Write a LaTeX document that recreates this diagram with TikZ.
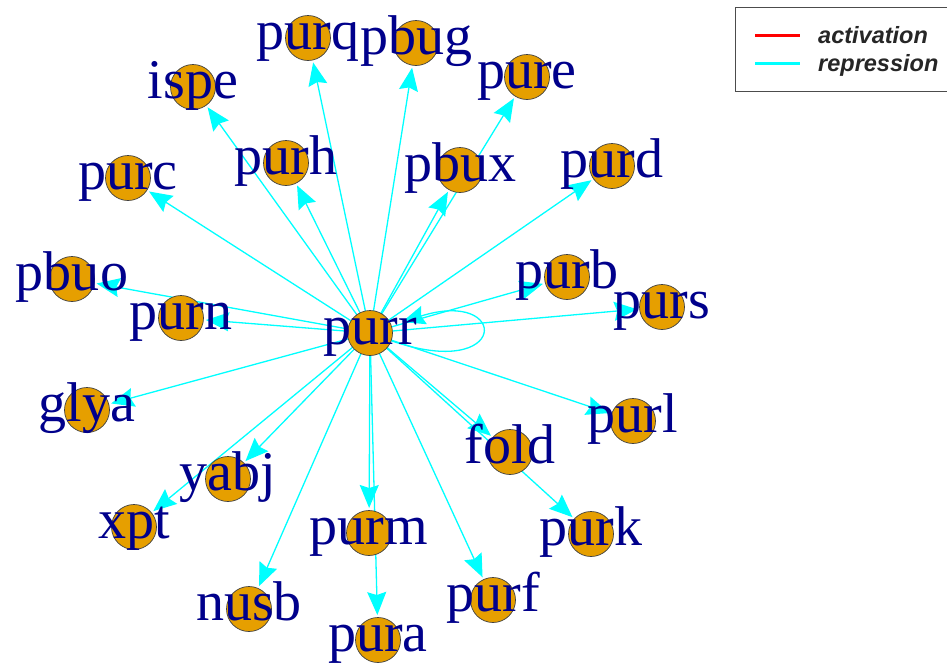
\documentclass[tikz,border=0pt]{standalone}
\usepackage{fontspec}
\setmainfont{Liberation Serif}
\newfontfamily\legfont{Liberation Sans}
\usetikzlibrary{arrows.meta,calc}
\definecolor{vfill}{HTML}{E69F00}
\definecolor{vtext}{RGB}{0,0,139}
\definecolor{ecyan}{HTML}{00FFFF}
\pgfdeclarelayer{edgelayer}
\pgfsetlayers{edgelayer,main}
\tikzset{
  vert/.style={circle, fill=vfill, draw=black!75, line width=0.7pt, minimum size=45pt, inner sep=0pt, outer sep=0pt},
  vlabel/.style={text=vtext, font=\fontsize{56}{60}\selectfont, inner sep=0pt, anchor=base},
  edge/.style={draw=ecyan, line width=1.3pt, -{Stealth[length=23pt,width=19pt,inset=3pt]}, shorten >=2.5pt},
  legtext/.style={font=\legfont\bfseries\itshape\fontsize{23.5}{26}\selectfont, text=black!85, anchor=base west, inner sep=0pt},
  legline/.style={line width=3pt},
}
\begin{document}
\begin{tikzpicture}[x=1pt,y=-1pt]
\useasboundingbox (0,0) rectangle (947,665);
% vertices and labels
\foreach \n/\x/\y in {purr/370/333, purq/308/38, pbug/416/43, ispe/193/87, purh/286/163,
  purc/128/178, pbux/460/170, pure/527/77, purd/612/166, purb/567/277, purs/662/307,
  pbuo/72/279, purn/181/318, glya/87/410, yabj/228/479, xpt/134/527, nusb/249/609,
  purm/369/533, pura/378/640, purl/633/421, fold/510/452, purk/591/534, purf/493/600}{
  \node[vert] (\n) at (\x,\y) {};
}
\foreach \n in {purr, purq, pbug, ispe, purh, purc, pbux, pure, purd, purb, purs,
  pbuo, purn, glya, yabj, xpt, nusb, purm, pura, purl, fold, purk, purf}{
  \node[vlabel] (l-\n) at ([yshift=-11pt]\n.center) {\n};
}
% edges
\begin{pgfonlayer}{edgelayer}
\foreach \t in {purq, pbug, ispe, purh, purc, pbux, pure, purd, purb, purs,
  pbuo, purn, glya, yabj, xpt, nusb, purm, pura, purl, fold, purk, purf}{
  \draw[edge] (purr) -- (\t);
}
\coordinate (loopend) at (402,322);
\draw[edge, shorten >=0pt] (purr.-20) .. controls (510,382) and (510,288) .. (loopend);
\end{pgfonlayer}
% legend
\draw[draw=black!70, fill=white, line width=1pt] (735,7) rectangle (958,91);
\coordinate (ra) at (755,35); \coordinate (rb) at (800,35);
\coordinate (ca) at (755,63); \coordinate (cb) at (800,63);
\draw[legline, red] (ra) -- (rb);
\draw[legline, ecyan] (ca) -- (cb);
\node[legtext] (legact) at (818,43) {activation};
\node[legtext] (legrep) at (818,71) {repression};
\end{tikzpicture}
\end{document}
